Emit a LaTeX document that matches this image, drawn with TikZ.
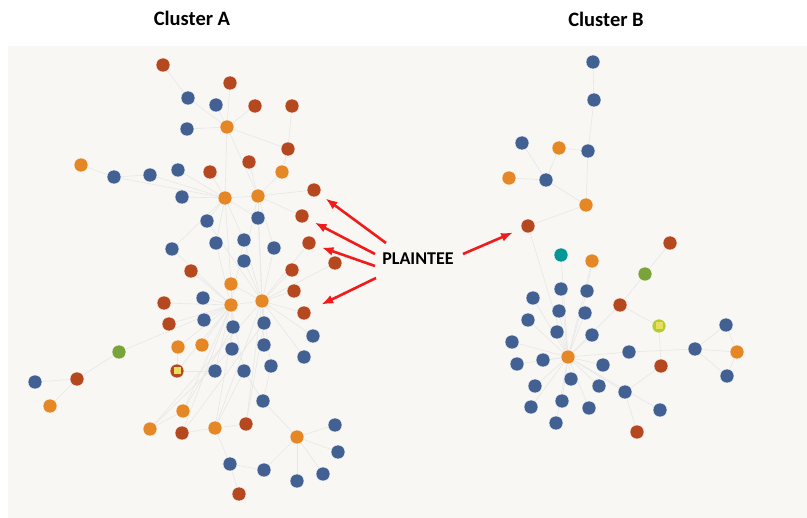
\documentclass[tikz,border=0pt]{standalone}
\usepackage{fontspec}
\setmainfont{Carlito}
\usepackage{tikz}
\usetikzlibrary{arrows.meta,backgrounds}

\definecolor{nblue}{RGB}{66,97,146}
\definecolor{nred}{RGB}{181,72,30}
\definecolor{norange}{RGB}{228,135,36}
\definecolor{ngreen}{RGB}{122,164,58}
\definecolor{nteal}{RGB}{0,150,150}
\definecolor{nlime}{RGB}{178,204,52}
\definecolor{nyellow}{RGB}{230,222,92}
\definecolor{bgpage}{RGB}{248,247,244}
\definecolor{lnk}{RGB}{231,231,231}
\definecolor{arred}{RGB}{240,28,28}

\begin{document}
\begin{tikzpicture}
                [x=1pt, y=-1pt,
                 dot/.style = {circle, inner sep=0pt, minimum size=14pt, draw=white, line width=0.4pt},
                 dotb/.style = {dot, fill=nblue}, dotr/.style = {dot, fill=nred},
                 doto/.style = {dot, fill=norange}, dotg/.style = {dot, fill=ngreen},
                 dott/.style = {dot, fill=nteal},
                 dotsq/.style = {path picture={\fill[nyellow] ([shift={(-3.5pt,-3.5pt)}]path picture bounding box.center) rectangle ([shift={(3.5pt,3.5pt)}]path picture bounding box.center);}},
                 ln/.style = {draw=lnk, line width=0.6pt},
                 arr/.style = {draw=arred, line width=2.6pt, -{Latex[length=12pt,width=9pt]}},
                 title/.style = {font=\bfseries\fontsize{20.5}{24}\selectfont, anchor=base, inner sep=0pt}]
                \useasboundingbox (0,0) rectangle (807,518);
                \begin{scope}[on background layer]
                \fill[bgpage] (8,46) rectangle (807,518);
                \end{scope}
                % Titles
                \node[title] (ta) at (192,25.5) {Cluster A};
                \node[title] (tb) at (606,27) {Cluster B};
                \node[font=\bfseries\fontsize{18}{22}\selectfont, anchor=base, inner sep=0pt] (pl) at (418,265) {PLAINTEE};
                % Cluster A
                \node[dotr] (a1) at (163,65) {};
                \node[dotr] (a2) at (230,83) {};
                \node[dotb] (a3) at (188,98) {};
                \node[dotb] (a4) at (216,105) {};
                \node[dotr] (a5) at (255,106) {};
                \node[dotr] (a6) at (292,106) {};
                \node[dotb] (a7) at (187,129) {};
                \node[doto] (a8) at (227,127) {};
                \node[dotr] (a9) at (288,149) {};
                \node[doto] (a10) at (81,165) {};
                \node[dotr] (a11) at (249,162) {};
                \node[doto] (a12) at (282,172) {};
                \node[dotb] (a13) at (114,177) {};
                \node[dotb] (a14) at (150,175) {};
                \node[dotb] (a15) at (178,170) {};
                \node[dotr] (a16) at (210,172) {};
                \node[dotb] (a17) at (182,197) {};
                \node[doto] (a18) at (225,198) {};
                \node[doto] (a19) at (258,196) {};
                \node[dotr] (a20) at (314,190) {};
                \node[dotb] (a21) at (207,221) {};
                \node[dotb] (a22) at (258,218) {};
                \node[dotr] (a23) at (302,216) {};
                \node[dotb] (a24) at (216,243) {};
                \node[dotb] (a25) at (244,240) {};
                \node[dotb] (a26) at (274,248) {};
                \node[dotr] (a27) at (309,243) {};
                \node[dotb] (a28) at (172,249) {};
                \node[dotb] (a29) at (244,261) {};
                \node[dotr] (a30) at (335,263) {};
                \node[dotr] (a31) at (191,271) {};
                \node[dotr] (a32) at (292,270) {};
                \node[doto] (a33) at (231,284) {};
                \node[dotr] (a34) at (294,291) {};
                \node[dotb] (a35) at (203,298) {};
                \node[doto] (a36) at (231,305) {};
                \node[doto] (a37) at (262,301) {};
                \node[dotr] (a38) at (164,303) {};
                \node[dotr] (a39) at (304,313) {};
                \node[dotb] (a40) at (204,320) {};
                \node[dotb] (a41) at (233,327) {};
                \node[dotb] (a42) at (264,323) {};
                \node[dotr] (a43) at (169,324) {};
                \node[dotb] (a44) at (313,336) {};
                \node[dotg] (a45) at (119,352) {};
                \node[doto] (a46) at (178,347) {};
                \node[doto] (a47) at (202,345) {};
                \node[dotb] (a48) at (232,349) {};
                \node[dotb] (a49) at (264,345) {};
                \node[dotb] (a50) at (304,357) {};
                \node[dotb] (a51) at (35,382) {};
                \node[dotr] (a52) at (77,379) {};
                \node[dotr, dotsq] (a53) at (177,371) {};
                \node[dotb] (a54) at (215,371) {};
                \node[dotb] (a55) at (244,371) {};
                \node[dotb] (a56) at (271,366) {};
                \node[doto] (a57) at (50,406) {};
                \node[dotb] (a58) at (263,401) {};
                \node[doto] (a59) at (183,411) {};
                \node[doto] (a60) at (150,429) {};
                \node[dotr] (a61) at (182,433) {};
                \node[doto] (a62) at (215,428) {};
                \node[dotr] (a63) at (246,424) {};
                \node[doto] (a64) at (297,437) {};
                \node[dotb] (a65) at (335,425) {};
                \node[dotb] (a66) at (338,452) {};
                \node[dotb] (a67) at (230,464) {};
                \node[dotb] (a68) at (264,470) {};
                \node[dotb] (a69) at (297,481) {};
                \node[dotb] (a70) at (323,474) {};
                \node[dotr] (a71) at (239,494) {};
                % Cluster B
                \node[dotb] (b1) at (593,62) {};
                \node[dotb] (b2) at (594,100) {};
                \node[dotb] (b3) at (522,143) {};
                \node[doto] (b4) at (559,148) {};
                \node[dotb] (b5) at (588,151) {};
                \node[doto] (b6) at (509,178) {};
                \node[dotb] (b7) at (546,180) {};
                \node[doto] (b8) at (586,205) {};
                \node[dotr] (b9) at (528,226) {};
                \node[dotr] (b10) at (670,243) {};
                \node[dott] (b11) at (561,255) {};
                \node[doto] (b12) at (592,261) {};
                \node[dotg] (b13) at (645,274) {};
                \node[dotb] (b14) at (561,289) {};
                \node[dotb] (b15) at (587,291) {};
                \node[dotb] (b16) at (533,298) {};
                \node[dotr] (b17) at (620,305) {};
                \node[dotb] (b18) at (559,311) {};
                \node[dotb] (b19) at (585,313) {};
                \node[dotb] (b20) at (528,320) {};
                \node[dot, fill=nlime, dotsq] (b21) at (659,326) {};
                \node[dotb] (b22) at (726,325) {};
                \node[dotb] (b23) at (557,332) {};
                \node[dotb] (b24) at (592,335) {};
                \node[dotb] (b25) at (512,342) {};
                \node[dotb] (b26) at (629,352) {};
                \node[dotb] (b27) at (695,349) {};
                \node[doto] (b28) at (737,352) {};
                \node[dotb] (b29) at (517,364) {};
                \node[dotb] (b30) at (543,360) {};
                \node[doto] (b31) at (568,357) {};
                \node[dotb] (b32) at (603,365) {};
                \node[dotr] (b33) at (661,366) {};
                \node[dotb] (b34) at (727,376) {};
                \node[dotb] (b35) at (535,386) {};
                \node[dotb] (b36) at (571,379) {};
                \node[dotb] (b37) at (599,386) {};
                \node[dotb] (b38) at (625,392) {};
                \node[dotb] (b39) at (531,407) {};
                \node[dotb] (b40) at (562,401) {};
                \node[dotb] (b41) at (589,408) {};
                \node[dotb] (b42) at (660,410) {};
                \node[dotb] (b43) at (556,423) {};
                \node[dotr] (b44) at (637,432) {};
                % Links
                \begin{scope}[on background layer]
                \path[ln] (a8) edge (a2) edge (a3) edge (a4) edge (a5) edge (a7) edge (a9) edge (a18) edge (a19);
                \path[ln] (a1) edge (a3);
                \path[ln] (a9) edge (a12) edge (a6);
                \path[ln] (a13) edge (a10) edge (a14) edge (a18);
                \path[ln] (a18) edge (a14) edge (a15) edge (a16) edge (a17) edge (a21) edge (a22) edge (a24) edge (a25) edge (a28) edge (a33) edge (a19);
                \path[ln] (a19) edge (a11) edge (a12) edge (a22) edge (a23) edge (a20) edge (a26) edge (a29) edge (a37);
                \path[ln] (a37) edge (a21) edge (a22) edge (a25) edge (a26) edge (a27) edge (a29) edge (a30) edge (a32) edge (a34) edge (a39) edge (a42) edge (a44) edge (a49) edge (a50) edge (a56) edge (a33) edge (a36);
                \path[ln] (a36) edge (a24) edge (a25) edge (a28) edge (a31) edge (a33) edge (a35) edge (a38) edge (a40) edge (a41) edge (a43) edge (a46) edge (a47) edge (a48) edge (a54) edge (a55);
                \path[ln] (a45) edge (a52) edge (a36);
                \path[ln] (a52) edge (a51) edge (a57);
                \path[ln] (a53) edge (a54) edge (a46) edge (a36);
                \path[ln] (a58) edge (a55) edge (a56) edge (a64);
                \path[ln] (a64) edge (a65) edge (a66) edge (a69) edge (a70) edge (a68);
                \path[ln] (a67) edge (a68) edge (a62) edge (a71);
                \path[ln] (a62) edge (a61) edge (a63) edge (a55) edge (a37) edge (a41);
                \path[ln] (a59) edge (a41) edge (a36) edge (a60);
                \path[ln] (a60) edge (a37) edge (a48);
                \path[ln] (a61) edge (a42) edge (a36);
                \path[ln] (a63) edge (a37) edge (a42);
                \path[ln] (b2) edge (b1) edge (b5);
                \path[ln] (b8) edge (b5) edge (b7) edge (b9);
                \path[ln] (b7) edge (b3) edge (b4) edge (b6);
                \path[ln] (b4) edge (b5);
                \path[ln] (b9) edge (b31);
                \path[ln] (b13) edge (b10) edge (b17);
                \path[ln] (b21) edge (b17) edge (b33);
                \path[ln] (b38) edge (b33) edge (b44);
                \path[ln] (b12) edge (b15) edge (b31);
                \path[ln] (b31) edge (b11) edge (b14) edge (b15) edge (b16) edge (b17) edge (b18) edge (b19) edge (b20) edge (b23) edge (b24) edge (b25) edge (b26) edge (b29) edge (b30) edge (b32) edge (b35) edge (b36) edge (b37) edge (b38) edge (b39) edge (b40) edge (b41) edge (b42) edge (b43);
                \path[ln] (b27) edge (b26) edge (b28) edge (b22) edge (b34);
                \path[ln] (b28) edge (b22) edge (b34);
                \end{scope}
                % Arrows
                \coordinate (s1) at (386,243);
                \coordinate (s2) at (375,254);
                \coordinate (s3) at (375,266);
                \coordinate (s4) at (376,278);
                \coordinate (s5) at (463,254);
                \draw[arr, shorten >=7pt] (s1) -- (a20);
                \draw[arr, shorten >=7pt] (s2) -- (a23);
                \draw[arr, shorten >=6pt] (s3) -- (a27);
                \draw[arr, shorten >=12pt] (s4) -- (a39);
                \draw[arr, shorten >=9pt] (s5) -- (b9);
            \end{tikzpicture}
\end{document}
